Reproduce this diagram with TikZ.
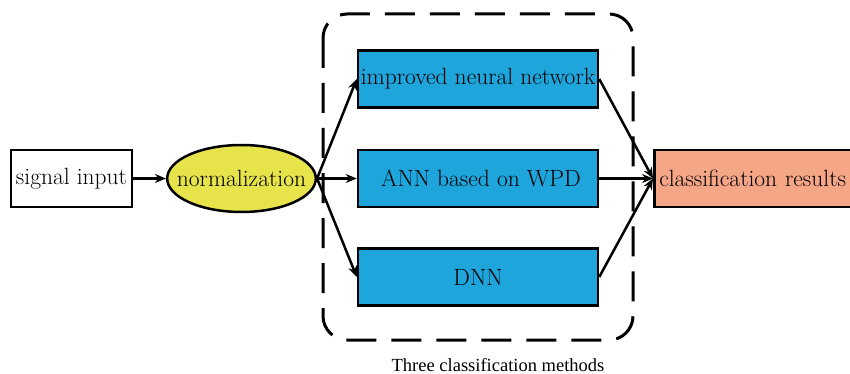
\documentclass[tikz,border=0pt]{standalone}
\usepackage{fontspec}
\newfontfamily\capfont{Liberation Serif}
\usetikzlibrary{shapes.geometric,arrows.meta}
\definecolor{boxblue}{RGB}{30,165,220}
\definecolor{ellyellow}{RGB}{230,228,74}
\definecolor{salmon}{RGB}{245,166,134}
\tikzset{
  mainfont/.style={font=\fontsize{23.5}{27}\selectfont},
  basebox/.style={draw=black,line width=2.5pt,rectangle,minimum height=57pt,inner sep=0pt,mainfont},
  whitebox/.style={basebox,fill=white,minimum width=121pt},
  bluebox/.style={basebox,fill=boxblue,minimum width=240pt},
  resbox/.style={basebox,fill=salmon,minimum width=222pt,text width=212pt,align=left},
  ellnode/.style={draw=black,line width=2.5pt,ellipse,fill=ellyellow,minimum width=147pt,minimum height=67pt,inner xsep=-12pt,inner ysep=0pt,mainfont},
  arr/.style={line width=2.5pt,-{Stealth[length=11pt,width=9pt]}},
  groupframe/.style={draw=black,line width=3pt,dash pattern=on 30pt off 15pt,rounded corners=24pt},
  captext/.style={font=\capfont\fontsize{18.5}{22}\selectfont}
}
\begin{document}
\begin{tikzpicture}[x=1pt,y=-1pt]
\useasboundingbox (0,0) rectangle (850,374);
\node[whitebox] (sig) at (71.5,178.5) {signal input};
\node[ellnode] (norm) at (241.5,178.5) {normalization};
\node[bluebox] (inn) at (478,79) {improved neural network};
\node[bluebox] (ann) at (478,178.5) {\hspace{6pt}ANN based on WPD};
\node[bluebox] (dnn) at (478,277) {DNN};
\node[resbox,anchor=west] (res) at (653,178.5) {classification results};
\draw[groupframe] (323,14) rectangle (633,340);
\node[captext] (cap) at (498,365) {Three classification methods};
\draw[arr] (sig) -- (norm);
\draw[arr] (norm.east) -- (inn.west);
\draw[arr] (norm.east) -- (ann.west);
\draw[arr] (norm.east) -- (dnn.west);
\draw[arr] (inn.east) -- (res.west);
\draw[arr] (ann.east) -- (res.west);
\draw[arr] (dnn.east) -- (res.west);
\end{tikzpicture}
\end{document}
